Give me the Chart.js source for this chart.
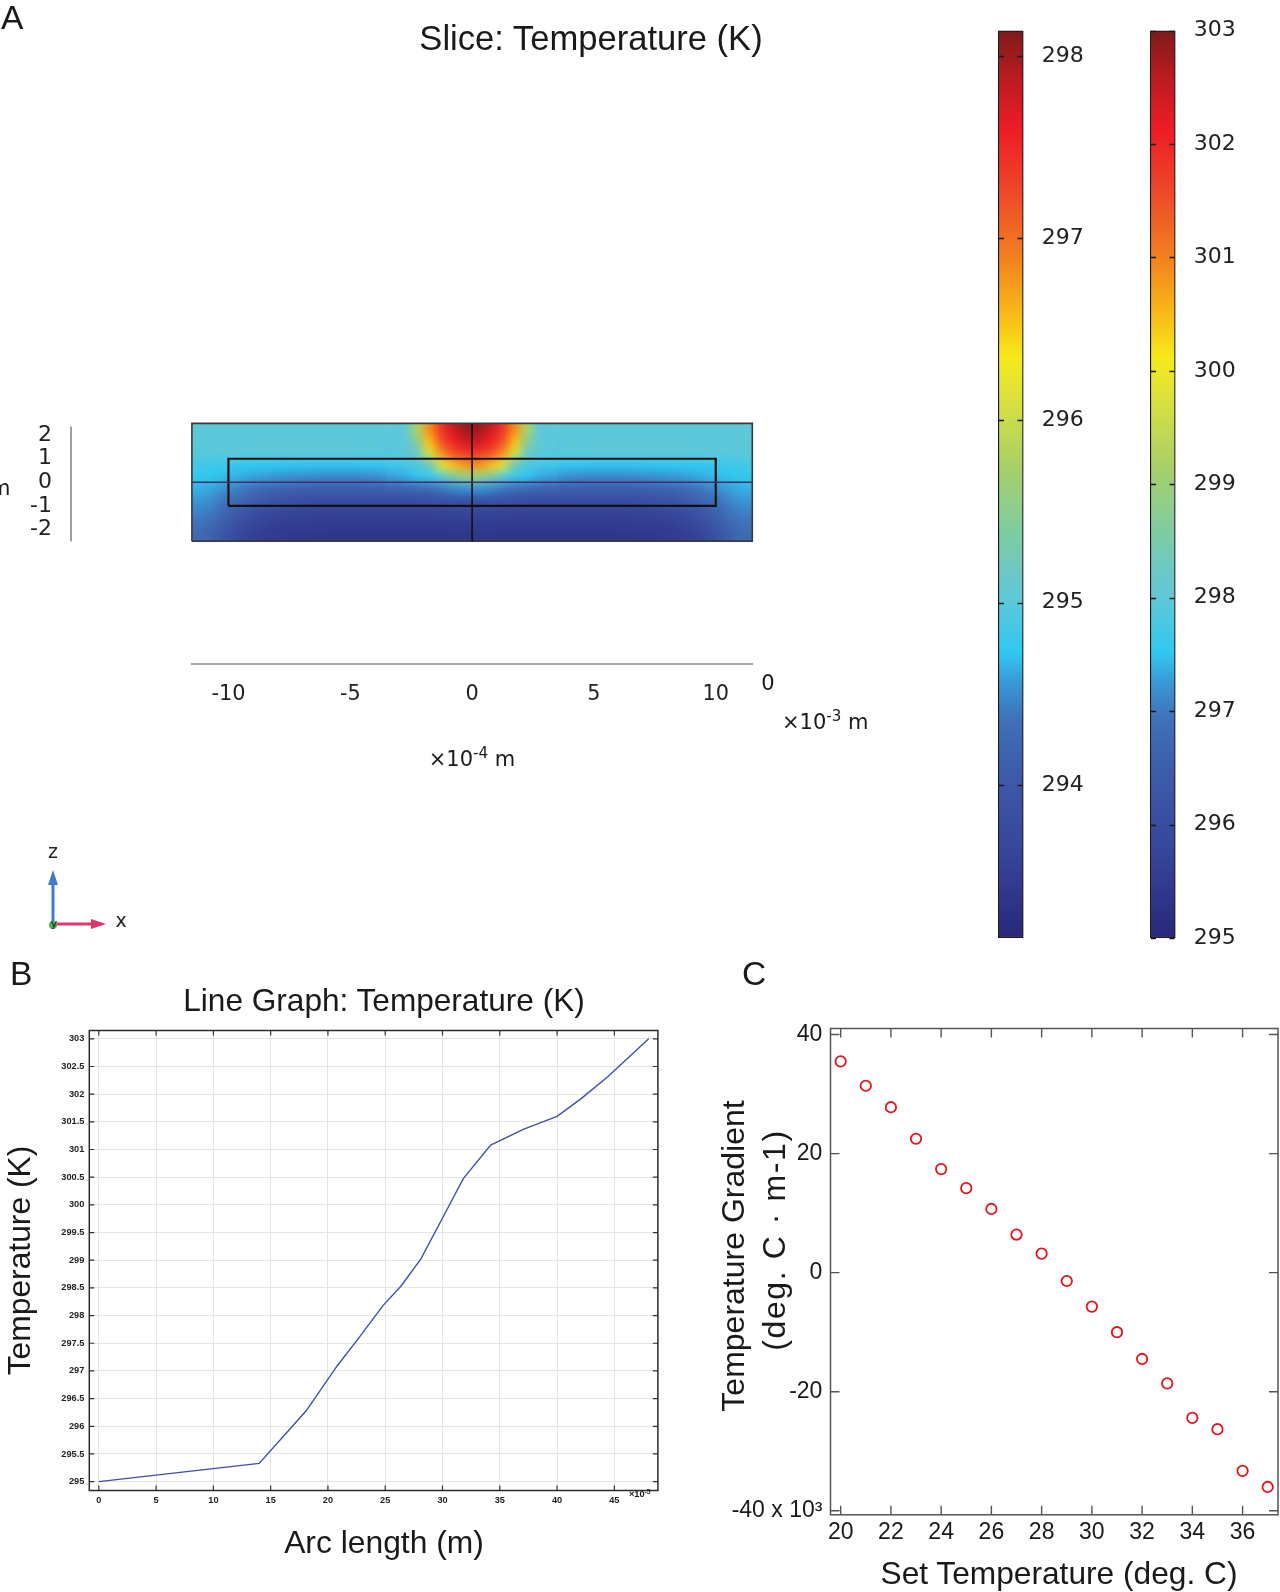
<!DOCTYPE html>
<html><head><meta charset="utf-8">
<script src="https://cdn.jsdelivr.net/npm/chart.js@4.4.1/dist/chart.umd.min.js"></script>
<style>
html,body{margin:0;padding:0;background:#fff;}
body{width:1280px;height:1592px;position:relative;overflow:hidden;font-family:"Liberation Sans",Arial,sans-serif;color:#1a1a1a;}
.t{position:absolute;white-space:nowrap;}
.dv{font-family:"DejaVu Sans",sans-serif;}
.rot{transform:translate(-50%,-50%) rotate(-90deg);}
sup{font-size:0.72em;vertical-align:0.5em;line-height:0;}
canvas{position:absolute;}
</style></head><body>
<canvas id="cA" width="980" height="960" style="left:0;top:0"></canvas>
<canvas id="cbL" width="108" height="945" style="left:998px;top:10px"></canvas>
<canvas id="cbR" width="108" height="945" style="left:1150px;top:10px"></canvas>
<canvas id="cB" width="715" height="612" style="left:0;top:965px"></canvas>
<canvas id="cC" width="585" height="592" style="left:700px;top:1000px"></canvas>

<div class="t" style="left:1px;top:1px;font-size:33.5px;line-height:33.5px;">A</div>
<div class="t" style="left:10px;top:957px;font-size:33.5px;line-height:33.5px;">B</div>
<div class="t" style="left:742px;top:957px;font-size:33.5px;line-height:33.5px;">C</div>
<div class="t" style="left:591px;top:21px;font-size:34.6px;line-height:34.6px;transform:translateX(-50%);">Slice: Temperature (K)</div>
<div class="t" style="left:384px;top:985px;font-size:31.6px;line-height:31.6px;transform:translateX(-50%);">Line Graph: Temperature (K)</div>
<div class="t" style="left:384px;top:1527px;font-size:31.8px;line-height:31.8px;transform:translateX(-50%);">Arc length (m)</div>
<div class="t" style="left:1059px;top:1558px;font-size:31.7px;line-height:31.7px;transform:translateX(-50%);">Set Temperature (deg. C)</div>
<div class="t rot" style="left:733px;top:1256px;font-size:32px;line-height:32px;">Temperature Gradient</div>
<div class="t rot" style="left:774px;top:1240px;font-size:32px;line-height:32px;letter-spacing:1.6px;">(deg. C · m-1)</div>
<div class="t dv" style="left:-10px;top:478px;font-size:21px;line-height:21px;">m</div>
<div class="t dv" style="left:768px;top:672px;font-size:21px;line-height:22px;transform:translateX(-50%);">0</div>
<div class="t dv" style="left:782px;top:711px;font-size:21px;line-height:22px;">×10<sup>-3</sup> m</div>
<div class="t dv" style="left:472px;top:748px;font-size:21px;line-height:22px;transform:translateX(-50%);">×10<sup>-4</sup> m</div>
<div class="t" style="left:629px;top:1489px;font-size:9.2px;line-height:10px;font-weight:bold;">×10<sup>-5</sup></div>

<script>
// ---------------- DATA ----------------
// Panel A: slice temperature (K), rows top (z=2.25) to bottom (z=-2.25); x, z in 1e-4 m
const sliceX = [-11,-10,-9,-8,-7,-6,-5,-4,-3,-2,-1,0,1,2,3,4,5,6,7,8,9,10,11];
const sliceZ = [2.25,1.75,1.25,0.75,0.25,-0.25,-0.75,-1.25,-1.75,-2.25];
const sliceRow0 = [295.0,295.0,295.0,295.0,295.0,295.0,295.0,295.0,295.02,296.9,297.65,297.95,297.65,296.9,295.02,295.0,295.0,295.0,295.0,295.0,295.0,295.0,295.0];
const sliceRow1 = [295.0,295.0,295.0,295.0,295.0,295.0,295.0,295.0,295.0,296.4,297.4,297.65,297.4,296.4,295.0,295.0,295.0,295.0,295.0,295.0,295.0,295.0,295.0];
const sliceRow2 = [294.98,295.0,295.0,295.0,295.0,295.0,295.0,294.98,294.98,295.8,297.0,297.3,297.0,295.8,294.98,294.98,295.0,295.0,295.0,295.0,295.0,295.0,294.98];
const sliceRow3 = [294.85,294.78,294.75,294.73,294.72,294.72,294.72,294.74,294.85,295.2,296.2,296.65,296.2,295.2,294.85,294.74,294.72,294.72,294.72,294.73,294.75,294.78,294.85];
const sliceRow4 = [294.75,294.68,294.6,294.55,294.5,294.48,294.48,294.5,294.6,294.75,295.1,295.45,295.1,294.75,294.6,294.5,294.48,294.48,294.5,294.55,294.6,294.68,294.75];
const sliceRow5 = [294.65,294.5,294.35,294.22,294.15,294.12,294.12,294.15,294.2,294.3,294.45,294.55,294.45,294.3,294.2,294.15,294.12,294.12,294.15,294.22,294.35,294.5,294.65];
const sliceRow6 = [294.55,294.35,294.1,293.9,293.82,293.8,293.8,293.8,293.8,293.82,293.88,293.92,293.88,293.82,293.8,293.8,293.8,293.8,293.82,293.9,294.1,294.35,294.55];
const sliceRow7 = [294.45,294.15,293.85,293.68,293.62,293.6,293.6,293.6,293.6,293.6,293.62,293.64,293.62,293.6,293.6,293.6,293.6,293.6,293.62,293.68,293.85,294.15,294.45];
const sliceRow8 = [294.35,293.98,293.65,293.52,293.5,293.48,293.48,293.48,293.48,293.48,293.48,293.5,293.48,293.48,293.48,293.48,293.48,293.48,293.5,293.52,293.65,293.98,294.35];
const sliceRow9 = [294.25,293.85,293.55,293.45,293.42,293.4,293.4,293.4,293.4,293.4,293.4,293.4,293.4,293.4,293.4,293.4,293.4,293.4,293.42,293.45,293.55,293.85,294.25];
const sliceT = [sliceRow0,sliceRow1,sliceRow2,sliceRow3,sliceRow4,sliceRow5,sliceRow6,sliceRow7,sliceRow8,sliceRow9];

// finer read of the heated spot at the centre (x step 0.5, same rows)
const hotX = [-3.25,-2.75,-2.25,-1.75,-1.25,-0.75,-0.25,0.25,0.75,1.25,1.75,2.25,2.75,3.25];
const hotRow0 = [295.01,295.05,295.78,296.82,297.38,297.77,298.0,298.0,297.77,297.38,296.82,295.78,295.05,295.01];
const hotRow1 = [295.0,295.03,295.5,296.6,297.2,297.55,297.77,297.77,297.55,297.2,296.6,295.5,295.03,295.0];
const hotRow2 = [294.98,295.0,295.2,296.05,296.82,297.2,297.38,297.38,297.2,296.82,296.05,295.2,295.0,294.98];
const hotRow3 = [294.82,294.86,294.96,295.3,296.1,296.6,296.8,296.8,296.6,296.1,295.3,294.96,294.86,294.82];
const hotRow4 = [294.58,294.63,294.7,294.8,295.05,295.4,295.6,295.6,295.4,295.05,294.8,294.7,294.63,294.58];
const hotRow5 = [294.19,294.22,294.28,294.35,294.42,294.5,294.55,294.55,294.5,294.42,294.35,294.28,294.22,294.19];
const hotRow6 = [293.8,293.8,293.82,293.84,293.87,293.9,293.92,293.92,293.9,293.87,293.84,293.82,293.8,293.8];
const hotRow7 = [293.6,293.6,293.6,293.61,293.62,293.63,293.64,293.64,293.63,293.62,293.61,293.6,293.6,293.6];
const hotRow8 = [293.48,293.48,293.48,293.48,293.48,293.49,293.5,293.5,293.49,293.48,293.48,293.48,293.48,293.48];
const hotRow9 = [293.4,293.4,293.4,293.4,293.4,293.4,293.4,293.4,293.4,293.4,293.4,293.4,293.4,293.4];
const hotT = [hotRow0,hotRow1,hotRow2,hotRow3,hotRow4,hotRow5,hotRow6,hotRow7,hotRow8,hotRow9];

const sliceXTicks = [-10,-5,0,5,10];
const sliceZTicks = [2,1,0,-1,-2];
const domainOuterX = [-11.5,11.5], domainOuterZ = [-2.5,2.5];
const domainInnerX = [-10,10], domainInnerZ = [-1,1];

// Colour legends
const legendLeftRange = [293.16,298.14];
const legendLeftTicks = [294,295,296,297,298];
const legendRightRange = [295,303];
const legendRightTicks = [295,296,297,298,299,300,301,302,303];

// Panel B: line graph (arc length in 1e-5 m)
const arcLength = [0,14.0,18.1,20.8,22.6,24.8,26.4,28.1,30.2,31.8,34.2,37.1,40.0,42.1,44.4,48.0];
const lineTemp  = [295.0,295.33,296.28,297.09,297.57,298.18,298.54,299.02,299.84,300.47,301.08,301.37,301.6,301.92,302.31,303.0];
const arcTicks = [0,5,10,15,20,25,30,35,40,45];
const lineTempTicks = [295,295.5,296,296.5,297,297.5,298,298.5,299,299.5,300,300.5,301,301.5,302,302.5,303];

// Panel C: gradient vs set temperature (x10^3)
const setTemp = [20,21,22,23,24,25,26,27,28,29,30,31,32,33,34,35,36,37];
const tempGradient = [35.5,31.4,27.8,22.5,17.4,14.2,10.7,6.4,3.2,-1.4,-5.7,-10.0,-14.5,-18.6,-24.4,-26.3,-33.3,-36.0];
const setTempTicks = [20,22,24,26,28,30,32,34,36];
const gradientTicks = [-40,-20,0,20,40];

// ---------------- STYLE ----------------
const cmapStops = [[0.00,'#28287a'],[0.10,'#37479c'],[0.17,'#3c58a8'],[0.24,'#3f70b8'],[0.28,'#3a96d6'],[0.315,'#30c8f0'],[0.37,'#5cc8da'],[0.40,'#6cc8c8'],[0.45,'#80cca0'],[0.52,'#a8d068'],[0.59,'#d8e040'],[0.64,'#f6ea1a'],[0.69,'#f8b818'],[0.75,'#f2801f'],[0.82,'#ee4a2a'],[0.89,'#ee1c25'],[0.95,'#b81c20'],[1.00,'#7e1a1a']];
function hexRgb(h){return [parseInt(h.slice(1,3),16),parseInt(h.slice(3,5),16),parseInt(h.slice(5,7),16)];}
function cmap(f){
  f=Math.max(0,Math.min(1,f));
  for(let i=1;i<cmapStops.length;i++){
    if(f<=cmapStops[i][0]){
      const [f0,c0]=cmapStops[i-1],[f1,c1]=cmapStops[i];
      const t=(f-f0)/(f1-f0),a=hexRgb(c0),b=hexRgb(c1);
      return a.map((v,k)=>Math.round(v+(b[k]-v)*t));
    }
  }
  return hexRgb(cmapStops[cmapStops.length-1][1]);
}
const DV = 'DejaVu Sans';
const LS = 'Liberation Sans';
Chart.defaults.animation = false;
Chart.defaults.font.family = LS;

const setTicks = arr => s => { s.ticks = arr.map(v=>({value:v})); };

// ---------------- PANEL A ----------------
function drawField(ctx, x, y, xs, zs, T){
  const cols = xs.length, rows = zs.length;
  const off = document.createElement('canvas'); off.width = cols; off.height = rows;
  const octx = off.getContext('2d'); const img = octx.createImageData(cols, rows);
  const lo = legendLeftRange[0], hi = legendLeftRange[1];
  for(let r=0;r<rows;r++) for(let c=0;c<cols;c++){
    const rgb = cmap((T[r][c]-lo)/(hi-lo)); const i=(r*cols+c)*4;
    img.data[i]=rgb[0]; img.data[i+1]=rgb[1]; img.data[i+2]=rgb[2]; img.data[i+3]=255;
  }
  octx.putImageData(img,0,0);
  const dx=(xs[1]-xs[0])/2, dz=Math.abs(zs[0]-zs[1])/2;
  const x0=x.getPixelForValue(xs[0]-dx), x1=x.getPixelForValue(xs[cols-1]+dx);
  const y0=y.getPixelForValue(zs[0]+dz), y1=y.getPixelForValue(zs[rows-1]-dz);
  ctx.save(); ctx.imageSmoothingEnabled=true; ctx.imageSmoothingQuality='high';
  ctx.drawImage(off,x0,y0,x1-x0,y1-y0); ctx.restore();
}
const heatPlugin = {
  id:'heat',
  beforeDatasetsDraw(chart){
    const {ctx, scales:{x,y}} = chart;
    drawField(ctx,x,y,sliceX,sliceZ,sliceT);
    drawField(ctx,x,y,hotX,sliceZ,hotT);
  },
  afterDraw(chart){
    const {ctx, scales:{y}} = chart;
    ctx.save();
    ctx.strokeStyle='#a0a0a0'; ctx.lineWidth=2;
    ctx.beginPath(); ctx.moveTo(71,y.getPixelForValue(2.37)); ctx.lineTo(71,y.getPixelForValue(-2.5)); ctx.stroke();
    const ox=53, oy=924;
    ctx.strokeStyle='#3d7cc9'; ctx.fillStyle='#3d7cc9'; ctx.lineWidth=3;
    ctx.beginPath(); ctx.moveTo(ox,oy); ctx.lineTo(ox,882); ctx.stroke();
    ctx.beginPath(); ctx.moveTo(ox,870); ctx.lineTo(ox-5,885); ctx.lineTo(ox+5,885); ctx.closePath(); ctx.fill();
    ctx.strokeStyle='#e3336b'; ctx.fillStyle='#e3336b';
    ctx.beginPath(); ctx.moveTo(ox,oy); ctx.lineTo(94,oy); ctx.stroke();
    ctx.beginPath(); ctx.moveTo(106,oy); ctx.lineTo(91,oy-5); ctx.lineTo(91,oy+5); ctx.closePath(); ctx.fill();
    ctx.fillStyle='#4caf50'; ctx.beginPath(); ctx.arc(ox,oy+1,4,0,Math.PI*2); ctx.fill();
    ctx.fillStyle='#222'; ctx.font='19px "DejaVu Sans"'; ctx.textAlign='center'; ctx.textBaseline='middle';
    ctx.fillText('z',ox,853); ctx.fillText('x',121,922);
    ctx.font='11px "DejaVu Sans"'; ctx.fillText('y',ox+1,oy);
    ctx.restore();
  }
};
const rectPts = (xs,zs)=>[{x:xs[0],y:zs[0]},{x:xs[1],y:zs[0]},{x:xs[1],y:zs[1]},{x:xs[0],y:zs[1]},{x:xs[0],y:zs[0]}];
const lineDs = (data,color,w)=>({data,borderColor:color,borderWidth:w,showLine:true,pointRadius:0,fill:false,tension:0,clip:false});
new Chart(document.getElementById('cA'),{
  type:'scatter',
  data:{datasets:[
    lineDs([{x:domainOuterX[0],y:0},{x:domainOuterX[1],y:0}],'#4a2d66',1.6),
    lineDs([{x:0,y:domainOuterZ[0]},{x:0,y:domainOuterZ[1]}],'#111',1.6),
    lineDs(rectPts(domainInnerX,domainInnerZ),'#111',2.2),
    lineDs(rectPts(domainOuterX,domainOuterZ),'#3a3a3a',1.6)
  ]},
  options:{responsive:false,
    layout:{padding:{top:423.4,left:0,right:227.7,bottom:255.4}},
    plugins:{legend:{display:false},tooltip:{enabled:false}},
    scales:{
      x:{type:'linear',min:-11.5,max:11.5,afterBuildTicks:setTicks(sliceXTicks),afterFit:s=>{s.height=40.6;},
         grid:{display:false,drawTicks:false},border:{display:true,color:'#a8a8a8',width:2},
         ticks:{padding:17.8,font:{family:DV,size:20.8},color:'#222',callback:v=>String(v)}},
      y:{type:'linear',min:-7.715,max:2.5,afterBuildTicks:setTicks(sliceZTicks),afterFit:s=>{s.width=191.9;},
         grid:{display:false,drawTicks:false},border:{display:false},
         ticks:{padding:140,font:{family:DV,size:22},color:'#222',callback:v=>String(v)}}
    }},
  plugins:[heatPlugin]
});

// ---------------- COLOUR LEGENDS ----------------
const cbTickPlugin = {
  id:'cbTicks',
  afterDatasetsDraw(chart){
    const {ctx,chartArea:a,scales:{y}} = chart;
    ctx.save(); ctx.strokeStyle='#1a1a1a'; ctx.lineWidth=1.6; ctx.beginPath();
    y.ticks.forEach(t=>{const py=Math.round(y.getPixelForValue(t.value))+0.5;
      ctx.moveTo(a.left+1,py); ctx.lineTo(a.left+6,py); ctx.moveTo(a.right-6,py); ctx.lineTo(a.right-1,py);});
    ctx.stroke(); ctx.restore();
  }
};
function makeLegend(id,range,ticks){
  new Chart(document.getElementById(id),{
    type:'bar',
    data:{labels:['T'],datasets:[{data:[[range[0],range[1]]],
      backgroundColor:c=>{const ch=c.chart,a=ch.chartArea; if(!a) return '#888';
        const g=ch.ctx.createLinearGradient(0,a.bottom,0,a.top); cmapStops.forEach(([f,col])=>g.addColorStop(f,col)); return g;},
      borderColor:'#1a1a1a',borderWidth:1.5,borderSkipped:false,barPercentage:1,categoryPercentage:1}]},
    options:{responsive:false,layout:{padding:{top:20.5,bottom:17,left:0,right:0}},
      plugins:{legend:{display:false},tooltip:{enabled:false}},
      scales:{x:{display:false},
        y:{position:'right',min:range[0],max:range[1],afterBuildTicks:setTicks(ticks),
           afterFit:s=>{s.width=82.5; s.paddingTop=0; s.paddingBottom=0;},
           grid:{display:false,drawTicks:false},border:{display:false},
           ticks:{padding:18.2,font:{family:DV,size:22},color:'#222',callback:v=>String(v)}}}},
    plugins:[cbTickPlugin]
  });
}
makeLegend('cbL',legendLeftRange,legendLeftTicks);
makeLegend('cbR',legendRightRange,legendRightTicks);

// ---------------- frame + inward ticks ----------------
function boxPlugin(id,o){
  return {id,afterDatasetsDraw(chart){
    const {ctx,chartArea:a,scales:{x,y}} = chart;
    ctx.save(); ctx.strokeStyle=o.tickColor; ctx.lineWidth=o.tickWidth; ctx.beginPath();
    o.xTicks.forEach(v=>{const p=x.getPixelForValue(v);
      ctx.moveTo(p,a.bottom); ctx.lineTo(p,a.bottom-o.tickLen); ctx.moveTo(p,a.top); ctx.lineTo(p,a.top+o.tickLen);});
    o.yTicks.forEach(v=>{const p=y.getPixelForValue(v);
      ctx.moveTo(a.left,p); ctx.lineTo(a.left+o.tickLen,p); ctx.moveTo(a.right,p); ctx.lineTo(a.right-o.tickLen,p);});
    ctx.stroke();
    ctx.strokeStyle=o.frameColor; ctx.lineWidth=o.frameWidth; ctx.strokeRect(a.left,a.top,a.width,a.height);
    ctx.restore();
  }};
}

// ---------------- PANEL B ----------------
new Chart(document.getElementById('cB'),{
  type:'scatter',
  data:{datasets:[{data:arcLength.map((v,i)=>({x:v,y:lineTemp[i]})),showLine:true,borderColor:'#4050a8',borderWidth:1.4,pointRadius:0,tension:0,fill:false}]},
  options:{responsive:false,
    layout:{padding:{top:65.5,left:0,right:57.1,bottom:56.5}},
    plugins:{legend:{display:false},tooltip:{enabled:false}},
    scales:{
      x:{type:'linear',min:-0.83,max:48.8,afterBuildTicks:setTicks(arcTicks),afterFit:s=>{s.height=30;},
         grid:{color:'#e4e4e4',drawTicks:false},border:{display:false},
         ticks:{padding:4.5,font:{family:LS,size:9.2,weight:'bold'},color:'#222',callback:v=>String(v)}},
      y:{type:'linear',min:294.84,max:303.15,afterBuildTicks:setTicks(lineTempTicks),afterFit:s=>{s.width=89.3;},
         grid:{color:'#e4e4e4',drawTicks:false},border:{display:false},
         ticks:{padding:5,font:{family:LS,size:9.2,weight:'bold'},color:'#222',callback:v=>String(v)},
         title:{display:true,text:'Temperature (K)',font:{family:LS,size:31.8},color:'#1a1a1a',padding:{top:2.2,bottom:0}}}
    }},
  plugins:[boxPlugin('boxB',{tickColor:'#333',tickWidth:1.2,tickLen:5,frameColor:'#2a2a2a',frameWidth:1.5,xTicks:arcTicks,yTicks:lineTempTicks})]
});

// ---------------- PANEL C ----------------
new Chart(document.getElementById('cC'),{
  type:'scatter',
  data:{datasets:[{data:setTemp.map((v,i)=>({x:v,y:tempGradient[i]})),pointStyle:'circle',pointRadius:5.2,borderColor:'#e3141b',borderWidth:1.8,backgroundColor:'rgba(255,255,255,0)'}]},
  options:{responsive:false,
    layout:{padding:{top:28.5,left:0,right:2.3,bottom:37.2}},
    plugins:{legend:{display:false},tooltip:{enabled:false}},
    scales:{
      x:{type:'linear',min:19.595,max:37.41,afterBuildTicks:setTicks(setTempTicks),afterFit:s=>{s.height=40; s.paddingLeft=0; s.paddingRight=0;},
         grid:{display:false,drawTicks:false},border:{display:false},
         ticks:{padding:4.4,font:{family:LS,size:23},color:'#1a1a1a',callback:v=>String(v)}},
      y:{type:'linear',min:-40.68,max:41.02,afterBuildTicks:setTicks(gradientTicks),afterFit:s=>{s.width=130.5; s.paddingTop=0; s.paddingBottom=0;},
         grid:{display:false,drawTicks:false},border:{display:false},
         ticks:{padding:8.1,font:{family:LS,size:23},color:'#1a1a1a',callback:v=>v===-40?'-40 x 10³':String(v)}}
    }},
  plugins:[boxPlugin('boxC',{tickColor:'#555',tickWidth:1.4,tickLen:9,frameColor:'#555',frameWidth:1.5,xTicks:setTempTicks,yTicks:gradientTicks})]
});
</script>
</body></html>
